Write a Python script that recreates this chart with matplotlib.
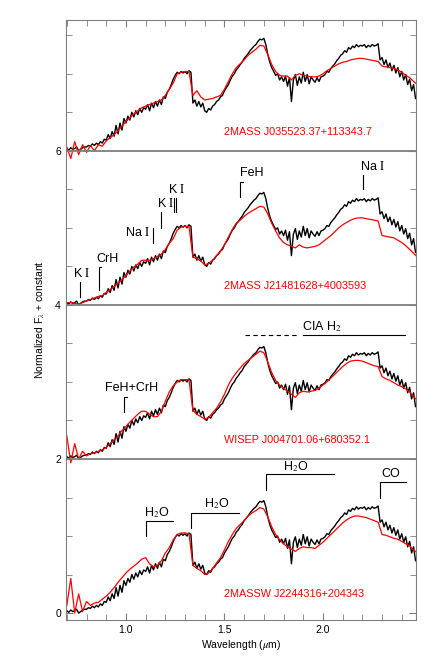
import numpy as np
import matplotlib
matplotlib.use("Agg")
import matplotlib.pyplot as plt
from matplotlib.ticker import MultipleLocator, FixedLocator

plt.rcParams['font.family'] = ['Liberation Sans', 'DejaVu Sans']
plt.rcParams['mathtext.fontset'] = 'stix'

# standard spectrum (black), 0.01 um steps from 0.70 um
std_flux = [0.03, 0.01, 0.04, 0.02, 0.03, 0.05, 0.00, 0.02, 0.04, 0.05,
            0.05, 0.07, 0.06, 0.09, 0.07, 0.10, 0.08, 0.12, 0.10, 0.15,
            0.14, 0.21, 0.16, 0.25, 0.19, 0.33, 0.22, 0.36, 0.27, 0.42,
            0.36, 0.45, 0.40, 0.50, 0.44, 0.52, 0.47, 0.55, 0.50, 0.56,
            0.54, 0.60, 0.52, 0.62, 0.56, 0.64, 0.58, 0.66, 0.60, 0.70,
            0.68, 0.76, 0.80, 0.86, 0.93, 0.98, 1.02, 1.00, 1.03, 1.01,
            1.03, 1.00, 1.04, 1.02, 0.62, 0.66, 0.58, 0.64, 0.57, 0.62,
            0.52, 0.50, 0.55, 0.53, 0.58, 0.60, 0.64, 0.66, 0.70, 0.72,
            0.78, 0.82, 0.86, 0.92, 0.97, 1.00, 1.05, 1.08, 1.12, 1.15,
            1.20, 1.23, 1.26, 1.30, 1.33, 1.36, 1.38, 1.42, 1.45, 1.44,
            1.46, 1.38, 1.25, 1.15, 1.08, 1.03, 0.98, 1.00, 0.92, 0.96,
            0.90, 0.97, 0.84, 0.95, 0.64, 0.92, 0.99, 0.85, 0.96, 0.88,
            1.02, 0.90, 0.99, 0.87, 0.96, 0.92, 0.89, 0.95, 0.90, 0.96,
            0.97, 0.99, 1.03, 1.02, 1.07, 1.10, 1.13, 1.17, 1.20, 1.24,
            1.26, 1.30, 1.28, 1.34, 1.32, 1.36, 1.34, 1.38, 1.35, 1.37,
            1.36, 1.38, 1.34, 1.37, 1.35, 1.38, 1.36, 1.37, 1.39, 1.18,
            1.21, 1.12, 1.18, 1.08, 1.14, 1.04, 1.11, 1.01, 1.08, 0.96,
            1.03, 0.92, 0.99, 0.86, 0.93, 0.78, 0.86, 0.68]

# object spectra (red), 0.02 um steps from 0.70 um, bottom panel first
obj_j2244 = [0.10, 0.45, 0.00, 0.25, 0.02, 0.15, 0.10, 0.13, 0.14, 0.18,
             0.22, 0.27, 0.33, 0.40, 0.46, 0.52, 0.57, 0.61, 0.65, 0.70,
             0.72, 0.64, 0.60, 0.62, 0.68, 0.78, 0.85, 0.95, 1.02, 1.04,
             1.04, 1.03, 0.62, 0.58, 0.55, 0.50, 0.52, 0.58, 0.65, 0.72,
             0.82, 0.93, 1.02, 1.10, 1.15, 1.20, 1.26, 1.30, 1.33, 1.37,
             1.35, 1.25, 1.12, 1.02, 0.95, 0.90, 0.86, 0.83, 0.80, 0.84,
             0.86, 0.85, 0.85, 0.84, 0.88, 0.92, 0.97, 1.02, 1.07, 1.12,
             1.17, 1.21, 1.24, 1.26, 1.26, 1.25, 1.24, 1.22, 1.20, 1.18,
             1.02, 1.01, 0.99, 0.97, 0.96, 0.93, 0.90, 0.87, 0.82, 0.78]
obj_j0047 = [0.30, -0.05, 0.20, 0.00, 0.10, 0.04, 0.07, 0.08, 0.10, 0.12,
             0.15, 0.20, 0.25, 0.30, 0.37, 0.42, 0.48, 0.53, 0.58, 0.62,
             0.62, 0.58, 0.55, 0.55, 0.62, 0.75, 0.87, 0.95, 1.00, 1.03,
             1.03, 1.03, 0.63, 0.58, 0.55, 0.52, 0.54, 0.60, 0.66, 0.74,
             0.84, 0.96, 1.05, 1.12, 1.18, 1.24, 1.28, 1.32, 1.36, 1.40,
             1.38, 1.26, 1.12, 1.02, 0.96, 0.92, 0.88, 0.84, 0.80, 0.86,
             0.88, 0.87, 0.88, 0.89, 0.92, 0.96, 1.00, 1.05, 1.10, 1.15,
             1.20, 1.24, 1.27, 1.28, 1.28, 1.27, 1.25, 1.23, 1.21, 1.20,
             1.07, 1.04, 1.02, 0.99, 0.96, 0.94, 0.91, 0.87, 0.81, 0.76]
obj_j2148 = [0.03, 0.03, 0.02, 0.01, 0.03, 0.05, 0.07, 0.09, 0.11, 0.12,
             0.16, 0.20, 0.24, 0.28, 0.33, 0.38, 0.44, 0.49, 0.53, 0.58,
             0.58, 0.58, 0.60, 0.63, 0.66, 0.72, 0.80, 0.86, 0.97, 1.01,
             1.02, 1.02, 0.62, 0.60, 0.57, 0.52, 0.54, 0.58, 0.64, 0.70,
             0.78, 0.88, 0.98, 1.06, 1.10, 1.15, 1.19, 1.22, 1.25, 1.28,
             1.27, 1.18, 1.06, 0.96, 0.87, 0.81, 0.78, 0.76, 0.74, 0.78,
             0.75, 0.74, 0.75, 0.76, 0.78, 0.82, 0.86, 0.90, 0.95, 1.00,
             1.04, 1.07, 1.10, 1.12, 1.13, 1.13, 1.12, 1.11, 1.10, 1.09,
             0.90, 0.89, 0.88, 0.87, 0.84, 0.81, 0.77, 0.72, 0.67, 0.62]
obj_j0355 = [0.05, -0.10, 0.12, -0.05, 0.08, -0.02, 0.07, 0.00, 0.08, 0.06,
             0.13, 0.17, 0.21, 0.26, 0.32, 0.38, 0.43, 0.48, 0.52, 0.56,
             0.58, 0.60, 0.62, 0.64, 0.66, 0.72, 0.80, 0.88, 1.00, 1.02,
             1.03, 1.03, 0.72, 0.78, 0.70, 0.66, 0.67, 0.68, 0.70, 0.72,
             0.80, 0.90, 1.00, 1.08, 1.13, 1.18, 1.24, 1.28, 1.32, 1.37,
             1.36, 1.25, 1.12, 1.03, 0.98, 0.97, 0.97, 0.92, 0.98, 1.00,
             0.98, 0.97, 0.96, 0.96, 0.97, 1.00, 1.04, 1.07, 1.10, 1.13,
             1.15, 1.16, 1.18, 1.19, 1.20, 1.20, 1.19, 1.18, 1.17, 1.16,
             1.10, 1.09, 1.08, 1.07, 1.05, 1.02, 0.98, 0.95, 0.90, 0.86]

names = ["2MASSW J2244316+204343", "WISEP J004701.06+680352.1",
         "2MASS J21481628+4003593", "2MASS J035523.37+113343.7"]
offsets = [0, 2, 4, 6]
objects = [obj_j2244, obj_j0047, obj_j2148, obj_j0355]

wl_std = 0.70 + 0.01 * np.arange(len(std_flux))

fig = plt.figure(figsize=(4.36, 6.62), dpi=100)
ax = fig.add_axes([0.151, 0.0634, 0.803, 0.9066])

grey = '#7f7f7f'
for off, obj, name in zip(offsets, objects, names):
    wl_obj = 0.70 + 0.02 * np.arange(len(obj))
    ax.plot(wl_std, np.array(std_flux) + off, color='black', lw=1.0)
    ax.plot(wl_obj, np.array(obj) + off, color='red', lw=0.9)
    ax.text(1.50, off + 0.25, name, color='red', fontsize=7.8, va='center', ha='left')

for off in offsets[1:]:
    ax.axhline(off, color=grey, lw=1.3, zorder=3)

ax.set_xlim(0.695, 2.472)
ax.set_ylim(-0.09, 7.7)

kw = dict(color='black', lw=0.8)
tkw = dict(fontsize=9, ha='center', va='center')

# panel 2 line ids
ax.plot([0.766, 0.766], [4.1, 4.3], **kw)
ax.text(0.776, 4.41, r"K $\mathrm{I}$", **tkw)
ax.plot([0.862, 0.862, 0.875], [4.2, 4.49, 4.49], **kw)
ax.text(0.908, 4.60, "CrH", **tkw)
ax.plot([1.137, 1.137], [4.8, 5.0], **kw)
ax.text(1.06, 4.94, r"Na $\mathrm{I}$", **tkw)
ax.plot([1.177, 1.177], [5.0, 5.2], **kw)
ax.text(1.20, 5.32, r"K $\mathrm{I}$", **tkw)
ax.plot([1.243, 1.243], [5.2, 5.39], **kw)
ax.plot([1.253, 1.253], [5.2, 5.39], **kw)
ax.text(1.26, 5.50, r"K $\mathrm{I}$", **tkw)
ax.plot([1.578, 1.578, 1.595], [5.4, 5.6, 5.6], **kw)
ax.text(1.64, 5.71, "FeH", **tkw)
ax.plot([2.203, 2.203], [5.5, 5.69], **kw)
ax.text(2.25, 5.80, r"Na $\mathrm{I}$", **tkw)

# panel 3
ax.plot([1.603, 1.87], [3.61, 3.61], color='black', lw=0.8, ls=(0, (4, 3)))
ax.plot([1.898, 2.416], [3.61, 3.61], **kw)
ax.text(1.995, 3.72, r"CIA H$_2$", **tkw)
ax.plot([0.99, 0.99, 1.005], [2.61, 2.8, 2.8], **kw)
ax.text(1.03, 2.92, "FeH+CrH", **tkw)

# panel 4 bands
ax.plot([1.10, 1.10, 1.24], [1.0, 1.2, 1.2], **kw)
ax.text(1.157, 1.31, r"H$_2$O", **tkw)
ax.plot([1.33, 1.33, 1.575], [1.1, 1.3, 1.3], **kw)
ax.text(1.46, 1.42, r"H$_2$O", **tkw)
ax.plot([1.71, 1.71, 2.055], [1.6, 1.8, 1.8], **kw)
ax.text(1.86, 1.90, r"H$_2$O", **tkw)
ax.plot([2.29, 2.29, 2.42], [1.5, 1.7, 1.7], **kw)
ax.text(2.345, 1.81, "CO", **tkw)

ax.xaxis.set_major_locator(FixedLocator([1.0, 1.5, 2.0]))
ax.xaxis.set_minor_locator(MultipleLocator(0.1))
ax.yaxis.set_major_locator(FixedLocator([0, 2, 4, 6]))
ax.yaxis.set_minor_locator(MultipleLocator(0.5))
ax.set_xticklabels(["1.0", "1.5", "2.0"])
ax.tick_params(which='both', direction='in', top=True, right=True, color=grey,
               labelsize=7.5)
ax.tick_params(which='major', length=5)
ax.tick_params(which='minor', length=4)
for s in ax.spines.values():
    s.set_color(grey)

ax.set_xlabel(r"Wavelength ($\mu$m)", fontsize=7.5, labelpad=2)
ax.set_ylabel(r"Normalized F$_\lambda$ + constant", fontsize=7.5, labelpad=6)

fig.savefig("out.png", dpi=100)
